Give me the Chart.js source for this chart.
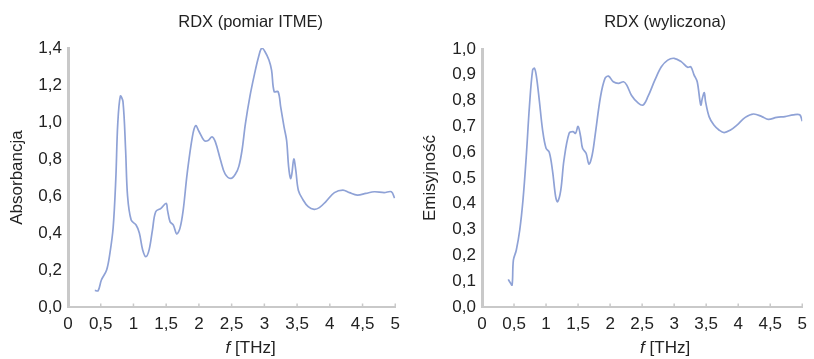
<!DOCTYPE html>
<html lang="pl">
<head>
    <meta charset="UTF-8">
    <title>RDX – absorbancja i emisyjność</title>
    <style>
        html, body { margin: 0; padding: 0; background: #fff; }
        .panele { position: relative; width: 814px; height: 359px; }
        .panel { position: absolute; top: 0; width: 407px; height: 359px; }
        #lewy { left: 0; }
        #prawy { left: 407px; }
    </style>
</head>
<body>
    <div class="panele">
        <div class="panel" id="lewy"><canvas id="wykresPomiar"></canvas></div>
        <div class="panel" id="prawy"><canvas id="wykresWyliczona"></canvas></div>
    </div>

    <script src="https://cdn.jsdelivr.net/npm/chart.js"></script>
    <script>
        // Widmo zmierzone (ITME): częstotliwość [THz] i absorbancja
        const fPomiar = [0.41, 0.46, 0.51, 0.59, 0.64, 0.69, 0.73, 0.76, 0.80, 0.84, 0.88, 0.91, 0.965,
            1.04, 1.09, 1.14, 1.19, 1.24, 1.29, 1.34, 1.42, 1.50, 1.52, 1.56, 1.61, 1.66, 1.71, 1.76,
            1.82, 1.90, 1.95, 2.00, 2.08, 2.14, 2.20, 2.25, 2.33, 2.40, 2.49, 2.56, 2.61, 2.66, 2.71,
            2.78, 2.85, 2.91, 2.96, 3.01, 3.07, 3.11, 3.15, 3.21, 3.25, 3.30, 3.34, 3.37, 3.40, 3.42,
            3.45, 3.48, 3.52, 3.59, 3.67, 3.76, 3.84, 3.94, 4.07, 4.20, 4.30, 4.42, 4.55, 4.68, 4.83,
            4.94, 4.99];
        const absorbancja = [0.09, 0.088, 0.146, 0.20, 0.29, 0.43, 0.69, 0.99, 1.14, 1.11, 0.85, 0.60, 0.47,
            0.443, 0.40, 0.31, 0.272, 0.31, 0.416, 0.515, 0.533, 0.56, 0.524, 0.46, 0.443, 0.395, 0.425, 0.524,
            0.72, 0.92, 0.98, 0.95, 0.90, 0.90, 0.92, 0.894, 0.795, 0.72, 0.695, 0.72, 0.76, 0.85, 0.99,
            1.14, 1.26, 1.35, 1.40, 1.38, 1.335, 1.28, 1.164, 1.164, 1.08, 0.975, 0.90, 0.76, 0.695, 0.72,
            0.80, 0.74, 0.63, 0.58, 0.542, 0.528, 0.537, 0.57, 0.618, 0.632, 0.618, 0.605, 0.614, 0.623, 0.618,
            0.623, 0.588];

        // Widmo wyliczone: częstotliwość [THz] i emisyjność
        const fWyliczona = [0.41, 0.44, 0.47, 0.49, 0.535, 0.59, 0.64, 0.69, 0.74, 0.79, 0.82, 0.85, 0.895,
            0.946, 1.00, 1.05, 1.10, 1.15, 1.18, 1.23, 1.28, 1.36, 1.42, 1.46, 1.50, 1.54, 1.57, 1.625,
            1.67, 1.72, 1.77, 1.85, 1.92, 1.975, 2.05, 2.13, 2.21, 2.26, 2.335, 2.44, 2.515, 2.59, 2.70,
            2.80, 2.90, 3.00, 3.11, 3.21, 3.26, 3.31, 3.36, 3.415, 3.44, 3.47, 3.49, 3.545, 3.62, 3.70,
            3.78, 3.88, 3.98, 4.11, 4.24, 4.37, 4.47, 4.60, 4.73, 4.86, 4.96, 5.00];
        const emisyjnosc = [0.107, 0.095, 0.085, 0.182, 0.22, 0.30, 0.415, 0.58, 0.776, 0.918, 0.925, 0.893, 0.80,
            0.686, 0.615, 0.60, 0.53, 0.427, 0.408, 0.453, 0.57, 0.673, 0.68, 0.673, 0.70, 0.66, 0.615, 0.596,
            0.554, 0.589, 0.673, 0.815, 0.886, 0.895, 0.873, 0.867, 0.873, 0.86, 0.82, 0.79, 0.783, 0.815, 0.88,
            0.931, 0.957, 0.964, 0.951, 0.929, 0.931, 0.90, 0.873, 0.783, 0.809, 0.831, 0.796, 0.738, 0.705, 0.686,
            0.676, 0.686, 0.705, 0.735, 0.748, 0.738, 0.727, 0.735, 0.738, 0.745, 0.745, 0.72];

        // Etykiety osi
        const osX = { min: 0, max: 5, krok: 0.5 };
        const osYPomiar = { min: 0, max: 1.4, krok: 0.2 };
        const osYWyliczona = { min: 0, max: 1.0, krok: 0.1 };

        const CZCIONKA = "'Liberation Sans', Arial, sans-serif";
        const KOLOR_TEKSTU = '#222';
        const KOLOR_OSI = '#c9c9c9';
        const KOLOR_LINII = 'rgb(143, 162, 214)';

        const przecinek = (v, miejsca) => v.toFixed(miejsca).replace('.', ',');
        const etykietaX = v => String(Math.round(v * 10) / 10).replace('.', ',');

        // Tytuły panelu, opis osi Y (obrócony) i opis osi X z kursywą "f"
        const opisyPanelu = {
            id: 'opisyPanelu',
            afterDraw(chart, args, opts) {
                const { ctx, chartArea } = chart;
                const cx = (chartArea.left + chartArea.right) / 2 + opts.przesuniecie;
                ctx.save();
                ctx.fillStyle = KOLOR_TEKSTU;
                ctx.textBaseline = 'middle';

                ctx.font = `16.5px ${CZCIONKA}`;
                ctx.textAlign = 'center';
                ctx.fillText(opts.tytul, cx, 22);

                // f [THz]
                const reszta = ' [THz]';
                ctx.font = `italic 17px ${CZCIONKA}`;
                const wf = ctx.measureText('f').width;
                ctx.font = `17px ${CZCIONKA}`;
                const wr = ctx.measureText(reszta).width;
                const x0 = cx - (wf + wr) / 2;
                ctx.textAlign = 'left';
                ctx.font = `italic 17px ${CZCIONKA}`;
                ctx.fillText('f', x0, 348);
                ctx.font = `17px ${CZCIONKA}`;
                ctx.fillText(reszta, x0 + wf, 348);

                // opis osi Y
                ctx.translate(opts.xOpisuY, (chartArea.top + chartArea.bottom) / 2);
                ctx.rotate(-Math.PI / 2);
                ctx.textAlign = 'center';
                ctx.font = `17px ${CZCIONKA}`;
                ctx.fillText(opts.opisY, 0, 0);
                ctx.restore();
            }
        };

        // Krótkie kreski podziałki osi X skierowane do wnętrza wykresu
        const kreskiX = {
            id: 'kreskiX',
            afterDraw(chart) {
                const { ctx } = chart;
                const sx = chart.scales.x;
                ctx.save();
                ctx.strokeStyle = KOLOR_OSI;
                ctx.lineWidth = 1.5;
                sx.ticks.forEach((t, i) => {
                    if (i === 0) return;
                    const px = sx.getPixelForTick(i);
                    ctx.beginPath();
                    ctx.moveTo(px, sx.top);
                    ctx.lineTo(px, sx.top - 3.5);
                    ctx.stroke();
                });
                ctx.restore();
            }
        };

        function rysujWykres(id, fx, wartosci, osY, opisy, uklad) {
            const punkty = fx.map((f, i) => ({ x: f, y: wartosci[i] }));
            return new Chart(document.getElementById(id), {
                type: 'line',
                data: {
                    datasets: [{
                        data: punkty,
                        borderColor: KOLOR_LINII,
                        borderWidth: 1.7,
                        pointRadius: 0,
                        tension: 0.35,
                        fill: false
                    }]
                },
                options: {
                    responsive: true,
                    maintainAspectRatio: false,
                    animation: false,
                    layout: { padding: { top: uklad.gora, right: uklad.prawo, left: 0, bottom: 0 } },
                    plugins: {
                        legend: { display: false },
                        tooltip: { enabled: false },
                        opisyPanelu: opisy
                    },
                    scales: {
                        x: {
                            type: 'linear',
                            min: osX.min,
                            max: osX.max,
                            afterFit: s => { s.height = 359 - uklad.dol; },
                            afterBuildTicks: s => {
                                s.ticks = [];
                                for (let v = osX.min; v <= osX.max + 1e-9; v += osX.krok) s.ticks.push({ value: v });
                            },
                            ticks: {
                                padding: 7,
                                maxRotation: 0,
                                autoSkip: false,
                                color: KOLOR_TEKSTU,
                                font: { family: CZCIONKA, size: 17 },
                                callback: v => etykietaX(v)
                            },
                            grid: { display: true, drawOnChartArea: false, drawTicks: false },
                            border: { color: KOLOR_OSI, width: 2 }
                        },
                        y: {
                            type: 'linear',
                            min: osY.min,
                            max: osY.max,
                            afterFit: s => { s.width = uklad.lewo; },
                            afterBuildTicks: s => {
                                s.ticks = [];
                                const n = Math.round((osY.max - osY.min) / osY.krok);
                                for (let i = 0; i <= n; i++) s.ticks.push({ value: osY.min + i * osY.krok });
                            },
                            ticks: {
                                padding: 6,
                                color: KOLOR_TEKSTU,
                                font: { family: CZCIONKA, size: 17 },
                                callback: v => przecinek(v, 1)
                            },
                            grid: { display: true, drawOnChartArea: false, drawTicks: false },
                            border: { color: KOLOR_OSI, width: 3 }
                        }
                    }
                },
                plugins: [opisyPanelu, kreskiX]
            });
        }

        rysujWykres('wykresPomiar', fPomiar, absorbancja, osYPomiar,
            { tytul: 'RDX (pomiar ITME)', opisY: 'Absorbancja', xOpisuY: 17, przesuniecie: 19 },
            { lewo: 68, prawo: 9, gora: 48, dol: 307 });

        rysujWykres('wykresWyliczona', fWyliczona, emisyjnosc, osYWyliczona,
            { tytul: 'RDX (wyliczona)', opisY: 'Emisyjność', xOpisuY: 23, przesuniecie: 23 },
            { lewo: 75, prawo: 8, gora: 49, dol: 307 });
    </script>
</body>
</html>
